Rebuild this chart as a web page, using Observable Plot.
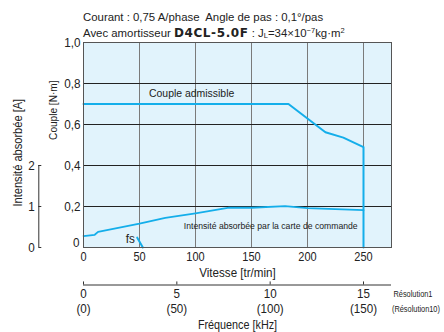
<!DOCTYPE html>
<html>
<head>
<meta charset="utf-8">
<script src="https://cdn.jsdelivr.net/npm/d3@7"></script>
<script src="https://cdn.jsdelivr.net/npm/@observablehq/plot@0.6"></script>
<style>
  html, body { margin: 0; padding: 0; background: #fff; }
  body { width: 444px; height: 332px; overflow: hidden; font-family: "Liberation Sans", Arial, sans-serif; color: #222; }
  #head { position: relative; height: 38px; }
  #head div { position: absolute; left: 83px; font-size: 11.4px; line-height: 16px; white-space: pre; }
  #l1 { top: 8.5px; }
  #l2 { top: 24.5px; }
  #l2 b { font-family: "DejaVu Sans", sans-serif; font-weight: bold; font-size: 12px; letter-spacing: 0.6px; }
  .sub { font-size: 7.5px; position: relative; top: 1px; }
  sup { font-size: 7.5px; vertical-align: 4px; line-height: 0; }
</style>
</head>
<body>
<div id="head">
  <div id="l1">Courant : 0,75 A/phase  Angle de pas : 0,1°/pas</div>
  <div id="l2">Avec amortisseur <b>D4CL-5.0F</b> : J<span class="sub">L</span>=34×10<sup>−7</sup>kg·m<sup>2</sup></div>
</div>
<div id="chart"></div>
<script>
// Couple admissible (N·m) vs vitesse (tr/min)
const torqueSpeed = [0, 183, 216, 232, 250, 250];
const torqueValue = [0.70, 0.70, 0.562, 0.536, 0.49, 0];
// Intensité absorbée par la carte de commande (A) vs vitesse
const currentSpeed = [0, 10, 13, 50, 73, 100, 130, 150, 180, 200, 250];
const currentValue = [0.28, 0.31, 0.38, 0.58, 0.72, 0.83, 0.97, 0.97, 1.01, 0.96, 0.91];
// fs (starting frequency) marker
const fsSpeed = [48, 53];
const fsTorque = [0.048, 0];
// ticks
const speedTicks = [0, 50, 100, 150, 200, 250];
const torqueTicks = [0, 0.2, 0.4, 0.6, 0.8, 1.0];
const currentTicks = [0, 1, 2];
const freqTicks = [0, 5, 10, 15];          // kHz, Résolution1
const freqTicksRes10 = [0, 50, 100, 150];   // kHz, Résolution10

const AMP_TO_NM = 0.2;          // 2 A on the current axis aligns with 0.4 N·m
const KHZ_TO_RPM = 250 / 15;    // 0.1°/pulse: 15 kHz = 250 tr/min

const blue = "#14aeea";
const torqueData = torqueSpeed.map((s, i) => ({s, t: torqueValue[i]}));
const currentData = currentSpeed.map((s, i) => ({s, t: currentValue[i] * AMP_TO_NM}));
const fsData = fsSpeed.map((s, i) => ({s, t: fsTorque[i]}));
const comma = d => d === 0 ? "0" : d.toFixed(1).replace(".", ",");

const W = 444, H = 294, mL = 83, mR = 53, mT = 4, mB = 85;
const pxPerUnit = (W - mL - mR) / 275;
const curAxisX = -44.7 / pxPerUnit;   // current axis offset, in tr/min units
const tickLen = 3 / pxPerUnit;

const chart = Plot.plot({
  width: W, height: H,
  marginLeft: mL, marginRight: mR, marginTop: mT, marginBottom: mB,
  style: {fontFamily: '"Liberation Sans", Arial, sans-serif', fontSize: "12px", color: "#222", overflow: "visible", background: "transparent"},
  x: {domain: [0, 275], axis: null},
  y: {domain: [0, 1], axis: null},
  marks: [
    Plot.frame({fill: "#e1f3fc", stroke: null}),
    Plot.ruleX(speedTicks.slice(1), {stroke: "#7a7a7a", strokeWidth: 1}),
    Plot.ruleY(torqueTicks.slice(1, -1), {stroke: "#222", strokeWidth: 1}),
    Plot.line(torqueData, {x: "s", y: "t", stroke: blue, strokeWidth: 2}),
    Plot.line(currentData, {x: "s", y: "t", stroke: blue, strokeWidth: 1.8}),
    Plot.line(fsData, {x: "s", y: "t", stroke: blue, strokeWidth: 2}),
    Plot.frame({stroke: "#555", strokeWidth: 1}),
    // speed axis labels
    Plot.text(speedTicks, {x: d => d, text: d => String(d), frameAnchor: "bottom", dy: 9.5, lineAnchor: "middle", fontSize: 12.2}),
    Plot.text(["Vitesse [tr/min]"], {frameAnchor: "bottom", dy: 25, lineAnchor: "middle", text: d => d, fontSize: 12.9}),
    // torque axis labels (the "0" sits a little higher, clear of the speed "0")
    Plot.text(torqueTicks.slice(1), {y: d => d, text: comma, frameAnchor: "left", dx: -3, textAnchor: "end", lineAnchor: "middle", fontSize: 13}),
    Plot.text(torqueTicks.slice(0, 1), {y: d => d, text: comma, frameAnchor: "left", dx: -4, dy: -5, textAnchor: "end", lineAnchor: "middle", fontSize: 13}),
    Plot.text(["Couple [N·m]"], {y: 0.525, frameAnchor: "left", dx: -30, rotate: -90, text: d => d, lineAnchor: "middle", fontSize: 11.2}),
    // current axis
    Plot.ruleX([curAxisX], {y1: 0, y2: 2 * AMP_TO_NM, stroke: "#333"}),
    Plot.ruleY(currentTicks, {y: d => d * AMP_TO_NM, x1: curAxisX, x2: curAxisX + tickLen, stroke: "#333"}),
    Plot.text(currentTicks, {y: d => d * AMP_TO_NM, x: curAxisX, dx: -4, text: d => String(d), textAnchor: "end", lineAnchor: "middle", fontSize: 13}),
    Plot.text(["Intensité absorbée [A]"], {y: 1 * AMP_TO_NM, frameAnchor: "left", dx: -65.5, rotate: -90, text: d => d, lineAnchor: "middle", fontSize: 12.3}),
    // curve annotations
    Plot.text(["Couple admissible"], {x: 58.5, y: 0.75, text: d => d, textAnchor: "start", fontSize: 11.6}),
    Plot.text(["Intensité absorbée par la carte de commande"], {x: 89.6, y: 0.106, text: d => d, textAnchor: "start", fontSize: 9.6}),
    Plot.text(["fs"], {x: 41.7, y: 0.041, text: d => d, fontSize: 13}),
    // frequency axis
    Plot.ruleY([0], {x1: 0, x2: 275, dy: 37.5, stroke: "#333"}),
    Plot.ruleX(freqTicks, {x: d => d * KHZ_TO_RPM, y1: 0, y2: 0.015, dy: 37.5, stroke: "#333"}),
    Plot.text(freqTicks, {x: d => d * KHZ_TO_RPM, text: d => String(d), frameAnchor: "bottom", dy: 46, lineAnchor: "middle", fontSize: 12.9}),
    Plot.text(freqTicksRes10, {x: d => d * KHZ_TO_RPM / 10, text: d => `(${d})`, frameAnchor: "bottom", dy: 61, lineAnchor: "middle", fontSize: 12.9}),
    Plot.text(["Résolution1"], {frameAnchor: "bottom-right", dx: 2, dy: 46.5, textAnchor: "start", lineAnchor: "middle", text: d => d, fontSize: 8.2}),
    Plot.text(["(Résolution10)"], {frameAnchor: "bottom-right", dx: 0.5, dy: 61.5, textAnchor: "start", lineAnchor: "middle", text: d => d, fontSize: 8.2}),
    Plot.text(["Fréquence [kHz]"], {frameAnchor: "bottom", dy: 77.5, lineAnchor: "middle", text: d => d, fontSize: 12})
  ]
});
document.getElementById("chart").appendChild(chart);
// narrow (condensed) lettering like the reference
const K = 0.9;
for (const t of chart.querySelectorAll("text")) {
  const L = t.getComputedTextLength();
  if (L > 0) {
    t.setAttribute("textLength", (L * K).toFixed(2));
    t.setAttribute("lengthAdjust", "spacingAndGlyphs");
  }
}
</script>
</body>
</html>
